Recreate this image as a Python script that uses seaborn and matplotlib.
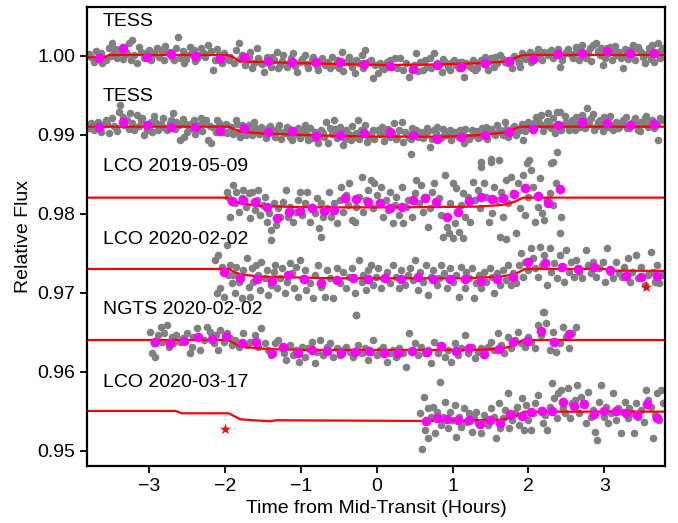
import matplotlib
matplotlib.use("Agg")
import matplotlib.pyplot as plt
import numpy as np
import pandas as pd
import seaborn as sns

# ---------------- data ----------------
labels = ["TESS", "TESS", "LCO 2019-05-09", "LCO 2020-02-02", "NGTS 2020-02-02", "LCO 2020-03-17"]
offsets = [1.000, 0.991, 0.982, 0.973, 0.964, 0.955]
label_flux = [1.00427, 0.99477, 0.98591, 0.97667, 0.96781, 0.95857]
xticks = [-3, -2, -1, 0, 1, 2, 3]
yticks = [0.95, 0.96, 0.97, 0.98, 0.99, 1.00]

# raw light curves: (hours from mid-transit, deviation from offset in ppt)
tess1_raw = [(-3.77,-0.12),(-3.73,-0.76),(-3.64,0.30),(-3.62,-0.97),(-3.57,-0.54),(-3.53,0.93),(-3.49,1.56),(-3.46,0.30),(-3.42,-0.33),(-3.38,0.72),(-3.31,0.51),(-3.27,1.56),(-3.22,1.99),(-3.20,0.09),(-3.16,-0.97),(-3.11,0.51),(-3.07,-0.33),(-3.00,0.72),(-2.96,0.09),(-2.90,0.93),(-2.85,0.72),(-2.81,-0.54),(-2.76,0.51),(-2.70,-0.12),(-2.65,0.93),(-2.62,2.41),(-2.59,-0.33),(-2.54,-0.97),(-2.50,0.09),(-2.46,1.14),(-2.41,0.72),(-2.37,-0.33),(-2.32,0.93),(-2.28,0.30),(-2.22,1.35),(-2.16,-1.81),(-2.13,-0.54),(-2.08,0.09),(-2.04,-0.97),(-1.98,-0.33),(-1.93,-0.12),(-1.86,0.72),(-1.82,1.56),(-1.78,0.09),(-1.71,-0.54),(-1.67,0.51),(-1.62,-0.97),(-1.58,0.93),(-1.54,-0.76),(-1.49,-2.02),(-1.45,-0.12),(-1.40,-1.39),(-1.36,-0.54),(-1.32,0.51),(-1.27,-1.18),(-1.23,0.09),(-1.18,-1.39),(-1.13,-0.33),(-1.10,0.30),(-1.05,-2.02),(-1.01,-0.76),(-0.94,0.09),(-0.90,-1.60),(-0.86,-0.54),(-0.81,-0.97),(-0.77,-1.81),(-0.72,-0.33),(-0.68,-1.18),(-0.64,-0.76),(-0.59,-0.12),(-0.55,-1.18),(-0.50,-1.60),(-0.46,0.51),(-0.42,-0.76),(-0.37,-0.12),(-0.33,-1.39),(-0.29,-2.23),(-0.24,-0.97),(-0.20,0.09),(-0.15,0.72),(-0.11,-0.76),(-0.05,-2.86),(-0.02,-1.18),
             (0.02,-2.23),(0.07,-1.39),(0.13,-0.76),(0.20,-1.39),(0.24,-0.33),(0.31,-0.33),(0.35,-1.81),(0.42,-2.65),(0.46,-1.81),(0.52,0.30),(0.57,-0.76),(0.61,-1.81),(0.66,-1.39),(0.70,-0.33),(0.75,0.30),(0.79,-0.97),(0.86,-2.02),(0.90,-0.76),(0.94,-1.39),(0.99,-0.76),(1.05,-1.18),(1.10,-0.76),(1.15,-2.65),(1.18,-0.97),(1.25,-1.60),(1.29,-1.81),(1.34,-0.97),(1.38,-0.54),(1.43,-0.12),(1.47,-1.81),(1.51,-0.33),(1.56,-0.12),(1.62,0.09),(1.69,-0.76),(1.73,-0.97),(1.78,-1.60),(1.84,-0.33),(1.89,-1.39),(1.93,-0.12),(2.00,0.09),(2.04,-0.76),(2.11,0.30),(2.15,-0.33),(2.21,0.51),(2.26,0.09),(2.30,0.72),(2.37,0.51),(2.41,-1.39),(2.46,0.09),(2.50,0.51),(2.54,0.30),(2.59,-0.33),(2.63,1.14),(2.68,0.72),(2.72,0.09),(2.76,-0.33),(2.81,0.93),(2.85,1.35),(2.89,1.56),(2.94,0.09),(2.98,-1.18),(3.03,0.93),(3.07,1.14),(3.12,0.72),(3.16,0.09),(3.22,-0.33),(3.25,-1.60),(3.29,0.09),(3.33,0.72),(3.38,1.35),(3.42,0.93),(3.46,0.72),(3.51,-0.12),(3.54,-0.97),(3.59,0.93),(3.63,1.35),(3.66,-0.76),(3.71,1.56),(3.75,0.72)]
tess1_raw_b = [(-3.80,0.2),(-3.70,0.6),(-3.60,-0.3),(-3.51,-0.1),(-3.44,0.9),(-3.35,-0.4),(-3.29,0.2),(-3.24,-0.6),(-3.13,1.1),(-3.04,0.4),(-2.98,-0.5),(-2.93,0.3),(-2.87,-0.2),(-2.79,1.2),(-2.73,0.5),(-2.67,-0.6),(-2.56,0.6),(-2.52,-0.4),(-2.44,0.3),(-2.39,-0.7),(-2.34,0.1),(-2.26,-0.2),(-2.19,0.6),(-2.10,0.8),(-2.06,-0.1),(-2.01,0.4),
               (-1.95,-0.6),(-1.88,-0.9),(-1.80,-0.4),(-1.74,-1.2),(-1.69,-0.2),(-1.64,-1.5),(-1.56,-0.3),(-1.51,-1.1),(-1.43,-0.8),(-1.38,-0.2),(-1.30,-1.6),(-1.25,-0.7),(-1.16,-0.9),(-1.08,-1.3),(-0.98,-0.4),(-0.92,-1.1),(-0.84,-0.2),(-0.79,-1.3),(-0.70,-0.8),(-0.61,-1.5),(-0.53,-0.6),(-0.44,-1.9),(-0.35,-0.9),(-0.27,-0.5),(-0.18,-1.6),(-0.08,-0.5),(0.04,-0.9),(0.10,-1.7),(0.17,-0.5),(0.27,-1.5),(0.39,-0.9),(0.49,-1.2),(0.55,-2.0),(0.64,-0.6),(0.72,-1.6),(0.82,-1.2),(0.88,-0.4),(0.97,-1.8),(1.02,-0.5),(1.08,-1.5),(1.13,-0.8),(1.21,-1.3),(1.27,-0.6),(1.32,-1.5),(1.41,-1.1),(1.49,-0.7),(1.54,-1.4),(1.59,-0.9),(1.66,-0.4),(1.76,-0.8),(1.81,-0.1),(1.87,-0.9),(1.91,0.3),
               (1.96,-0.4),(2.02,0.5),(2.08,-0.2),(2.13,0.9),(2.18,-0.6),(2.24,0.3),(2.33,-0.3),(2.39,0.9),(2.44,-0.5),(2.52,0.8),(2.57,-0.1),(2.61,0.4),(2.66,-0.6),(2.70,1.3),(2.79,0.3),(2.83,-0.7),(2.92,0.6),(2.96,1.0),(3.01,-0.3),(3.05,0.3),(3.10,-0.6),(3.14,1.2),(3.19,0.5),(3.27,0.8),(3.31,-0.4),(3.36,0.2),(3.40,-0.5),(3.44,1.1),(3.49,0.5),(3.56,0.2),(3.61,-0.4),(3.68,0.4),(3.73,-0.3),(3.78,1.0)]

tess2_raw = [(-3.77,0.44),(-3.73,-0.41),(-3.68,0.65),(-3.62,0.22),(-3.57,0.86),(-3.53,-0.83),(-3.49,1.07),(-3.44,-0.20),(-3.40,1.91),(-3.38,2.76),(-3.33,0.22),(-3.29,0.86),(-3.25,1.70),(-3.20,-0.41),(-3.16,1.49),(-3.11,0.86),(-3.07,-1.04),(-3.00,0.01),(-2.96,-0.62),(-2.92,0.65),(-2.87,0.01),(-2.82,1.07),(-2.77,-0.41),(-2.73,0.44),(-2.68,1.70),(-2.64,0.65),(-2.59,-1.67),(-2.54,-1.25),(-2.50,-0.62),(-2.46,0.01),(-2.41,0.86),(-2.37,-0.41),(-2.32,1.07),(-2.28,0.65),(-2.23,-1.67),(-2.18,-2.10),(-2.15,-0.20),(-2.10,0.86),(-2.06,0.22),(-2.02,-0.62),(-1.97,-0.83),(-1.92,0.01),(-1.86,0.86),(-1.82,-0.62),(-1.78,0.22),(-1.72,-1.04),(-1.67,-0.62),(-1.62,0.65),(-1.58,-0.41),(-1.53,0.01),(-1.48,-0.83),(-1.44,-0.20),(-1.38,-0.41),(-1.34,-1.25),(-1.29,0.22),(-1.24,-0.62),(-1.18,0.01),(-1.14,-1.25),(-1.10,-0.62),(-1.04,-0.20),(-0.99,-0.41),(-0.94,0.22),(-0.90,-1.67),(-0.86,-1.46),(-0.81,-0.62),(-0.77,-2.10),(-0.71,-0.83),(-0.67,0.65),(-0.61,-0.20),(-0.57,0.86),(-0.53,-1.46),(-0.48,0.01),(-0.44,-2.31),(-0.40,-0.41),(-0.34,-1.67),(-0.30,-1.25),(-0.25,0.86),(-0.21,-0.41),(-0.15,0.22),(-0.11,-1.25),(-0.05,-0.41),
             (0.02,-0.41),(0.07,0.01),(0.12,-0.62),(0.18,-1.25),(0.23,0.44),(0.27,-1.25),(0.33,0.65),(0.37,-0.62),(0.42,-1.25),(0.47,-0.20),(0.52,-0.41),(0.57,-0.83),(0.61,-1.46),(0.66,-0.20),(0.70,-2.52),(0.75,-0.41),(0.80,0.01),(0.86,-1.25),(0.90,-0.62),(0.96,-0.41),(1.00,-1.04),(1.05,-0.83),(1.10,-0.41),(1.15,-2.10),(1.19,-1.25),(1.25,-0.41),(1.29,-0.62),(1.34,-1.46),(1.39,-0.20),(1.44,0.01),(1.48,-0.41),(1.54,-0.83),(1.58,0.22),(1.63,-0.41),(1.69,0.65),(1.73,-1.25),(1.79,-0.20),(1.83,-1.04),(1.89,-0.41),(1.93,-1.67),(1.97,0.01),(2.03,-0.20),(2.07,0.44),(2.13,0.86),(2.17,1.49),(2.21,0.01),(2.26,1.70),(2.30,-0.20),(2.35,-0.83),(2.38,1.91),(2.41,1.91),(2.46,0.22),(2.50,0.65),(2.54,-0.41),(2.60,0.44),(2.63,1.28),(2.68,0.01),(2.73,0.86),(2.77,2.34),(2.83,1.07),(2.87,-0.41),(2.92,0.65),(2.96,0.22),(3.00,1.28),(3.05,0.01),(3.11,-0.41),(3.15,0.65),(3.20,0.01),(3.25,0.86),(3.30,-0.20),(3.36,0.44),(3.40,1.07),(3.44,-0.41),(3.49,0.65),(3.53,1.07),(3.57,0.01),(3.63,0.86),(3.68,0.22),(3.71,-1.67),(3.74,1.07)]
tess2_raw_b = [(-3.80,-0.2),(-3.70,0.3),(-3.64,-0.6),(-3.55,0.4),(-3.47,0.1),(-3.42,-0.5),(-3.35,1.2),(-3.27,-0.3),(-3.22,0.5),(-3.13,0.1),(-3.09,1.1),(-3.03,-0.4),(-2.98,0.6),(-2.94,1.3),(-2.89,-0.4),(-2.84,0.3),(-2.79,-0.2),(-2.71,0.9),(-2.66,-0.3),(-2.61,0.2),(-2.56,1.0),(-2.52,0.3),(-2.48,-0.3),(-2.43,0.5),(-2.39,-0.9),(-2.34,0.2),(-2.30,-0.5),(-2.25,0.8),(-2.20,0.1),(-2.12,-0.6),(-2.08,0.5),(-2.04,-0.2),(-1.99,0.4),
               (-1.94,-0.5),(-1.89,-0.9),(-1.84,0.3),(-1.80,-1.3),(-1.75,-0.4),(-1.69,0.2),(-1.64,-1.1),(-1.60,-0.2),(-1.55,-0.9),(-1.50,-0.4),(-1.46,-1.4),(-1.41,0.1),(-1.36,-0.8),(-1.31,-0.3),(-1.26,-1.5),(-1.21,-0.8),(-1.16,-0.3),(-1.12,-1.7),(-1.06,-0.9),(-1.01,-1.4),(-0.96,-0.6),(-0.92,-1.1),(-0.88,-0.2),(-0.83,-1.0),(-0.79,-1.5),(-0.74,-0.4),(-0.69,-1.3),(-0.64,-2.0),(-0.59,-0.9),(-0.55,-0.3),(-0.50,-1.2),(-0.46,-0.7),(-0.42,-1.5),(-0.37,-0.9),(-0.32,0.1),(-0.27,-0.8),(-0.23,-1.6),(-0.18,-0.6),(-0.13,-1.9),(-0.08,-0.9),(-0.03,-1.6),(0.04,-0.9),(0.10,-1.8),(0.15,-0.3),(0.20,-0.8),(0.25,-1.6),(0.30,-0.4),(0.35,-1.9),(0.40,-0.9),(0.45,-1.5),(0.50,-0.8),(0.55,-1.3),(0.59,-0.6),(0.64,-1.1),(0.68,-0.5),(0.73,-1.6),(0.78,-0.8),(0.83,-1.4),(0.88,-0.3),(0.93,-1.1),(0.98,-1.7),(1.03,-0.6),(1.08,-1.3),(1.12,-0.8),(1.17,-0.3),(1.22,-1.6),(1.27,-1.0),(1.32,-0.5),(1.37,-1.2),(1.42,-0.7),(1.46,-1.5),(1.51,-0.3),(1.56,-1.0),(1.61,-0.5),(1.66,-1.1),(1.71,-0.3),(1.76,-0.7),(1.81,0.1),(1.86,-0.5),(1.91,0.4),
               (1.95,-0.5),(2.00,0.6),(2.05,-0.1),(2.10,1.2),(2.15,0.3),(2.19,-0.5),(2.24,0.7),(2.28,0.2),(2.33,1.1),(2.43,-0.4),(2.48,1.3),(2.52,0.2),(2.57,0.9),(2.62,-0.4),(2.66,0.5),(2.70,1.5),(2.75,-0.2),(2.80,0.4),(2.85,1.6),(2.90,0.1),(2.94,0.9),(2.98,-0.5),(3.02,0.6),(3.08,1.4),(3.13,0.2),(3.18,-0.2),(3.23,0.4),(3.28,1.2),(3.33,-0.1),(3.38,0.6),(3.42,0.2),(3.47,-0.5),(3.51,0.4),(3.55,1.4),(3.60,0.5),(3.65,-0.2),(3.70,0.4),(3.77,0.8)]

lco19_raw = [(-1.98,0.79),(-1.96,0.15),(-1.93,-2.38),(-1.90,1.63),(-1.87,-0.69),(-1.85,0.79),(-1.81,-1.75),(-1.78,-0.06),(-1.76,1.00),(-1.72,-1.11),(-1.69,0.57),(-1.67,-2.59),(-1.64,0.79),(-1.61,-1.53),(-1.58,-0.27),(-1.56,1.00),(-1.54,-2.17),(-1.50,-0.90),(-1.47,0.15),(-1.45,-3.01),(-1.42,-1.96),(-1.39,-4.07),(-1.36,-0.69),(-1.33,-3.43),(-1.30,-1.32),(-1.28,-2.38),(-1.24,-0.48),(-1.20,1.00),(-1.17,-2.38),(-1.14,-1.11),(-1.10,-3.01),(-1.07,-1.75),(-1.04,-0.27),(-1.01,0.79),(-0.98,-2.17),(-0.95,-0.69),(-0.92,0.79),(-0.88,-3.01),(-0.85,-1.11),(-0.82,-1.96),(-0.79,-0.06),(-0.76,-3.86),(-0.73,-0.69),(-0.71,-2.38),(-0.66,-1.32),(-0.63,0.79),(-0.60,-2.38),(-0.57,-0.69),(-0.53,-3.22),(-0.49,-0.27),(-0.47,1.42),(-0.44,-1.75),(-0.41,0.36),(-0.38,-0.90),(-0.36,1.84),(-0.32,-2.80),(-0.29,-3.01),(-0.27,-1.11),(-0.23,0.15),(-0.20,2.68),(-0.18,-1.75),(-0.14,-0.27),(-0.11,1.00),(-0.08,2.26),(-0.05,-1.32),(-0.03,1.84),(0.00,0.36),(0.03,-0.69),(0.06,1.42),(0.08,-2.38),(0.12,-0.27),(0.15,-1.53),(0.17,0.79),(0.21,-3.22),(0.24,-0.90),(0.26,0.15),(0.29,-2.17),(0.33,1.42),(0.35,-3.22),(0.38,-1.11),(0.41,-0.27),(0.45,5.55),(0.47,-2.38),(0.50,0.57),(0.52,2.26),(0.56,-0.69),(0.59,1.63),(0.61,-1.75),(0.65,0.15),(0.68,-3.64),(0.70,-1.32),(0.73,0.79),(0.76,1.84),(0.79,-0.69),(0.82,-0.06),(0.85,-2.17),(0.90,2.90),(0.93,-3.64),(0.95,-4.49),(0.96,-0.69),(1.00,1.84),(1.03,-3.22),(1.05,1.21),(1.08,-4.28),(1.11,-0.90),(1.14,0.57),(1.17,-2.38),(1.20,0.15),(1.23,-3.01),(1.27,2.05),(1.29,-0.27),(1.33,1.00),(1.36,-1.32),(1.38,3.95),(1.41,1.84),(1.44,0.15),(1.48,-3.01),(1.50,4.58),(1.52,-1.96),(1.55,1.42),(1.58,-0.27),(1.62,-4.91),(1.64,0.79),(1.66,-2.38),(1.70,2.26),(1.73,-0.69),(1.77,2.68),(1.79,0.57),(1.83,-4.49),(1.86,1.84),(1.89,-1.32),(1.93,2.90),(1.95,-2.17),(1.98,4.37),(2.00,0.15),(2.04,3.53),(2.06,1.42),(2.09,-3.01),(2.12,-1.11),(2.15,2.47),(2.18,-1.96),(2.21,-2.80),(2.24,-0.27),(2.28,0.57),(2.30,4.37),(2.32,-0.90),(2.36,1.84),(2.37,5.85),(2.41,-4.49),(2.43,-2.38),
             (1.37,4.50),(1.51,4.90),(1.61,4.80),(2.01,4.80),(2.33,4.60)]

lco20a_raw = [(-2.13,1.14),(-2.11,-3.08),(-2.09,1.77),(-2.07,-2.45),(-2.04,0.30),(-2.02,-3.50),(-1.98,3.04),(-1.96,-0.76),(-1.93,0.51),(-1.91,-1.81),(-1.89,-0.76),(-1.87,-3.08),(-1.85,0.30),(-1.81,-1.60),(-1.78,-3.71),(-1.76,-0.13),(-1.71,1.35),(-1.69,-2.24),(-1.67,-3.50),(-1.65,0.08),(-1.63,-1.60),(-1.59,0.51),(-1.56,-0.76),(-1.54,-2.66),(-1.52,0.93),(-1.47,-1.18),(-1.45,-0.13),(-1.43,-3.29),(-1.40,-2.02),(-1.36,-0.34),(-1.34,0.51),(-1.32,-2.45),(-1.28,-1.18),(-1.25,0.08),(-1.21,-3.08),(-1.18,-1.60),(-1.145,0.72),(-1.12,-0.55),(-1.09,-2.45),(-1.06,0.30),(-1.04,-3.50),(-1.01,1.14),(-0.97,-1.18),(-0.95,-0.13),(-0.93,-2.66),(-0.88,-1.81),(-0.84,-3.71),(-0.82,-0.76),(-0.77,0.51),(-0.73,-2.24),(-0.68,-3.50),(-0.66,-0.13),(-0.62,-1.18),(-0.58,-3.71),(-0.53,0.08),(-0.49,-1.81),(-0.44,-0.34),(-0.40,-2.45),(-0.36,-0.97),(-0.32,0.08),(-0.29,-3.08),(-0.27,-5.82),(-0.23,1.14),(-0.20,-1.60),(-0.18,-0.76),(-0.14,-2.66),(-0.11,-0.13),(-0.08,0.51),(-0.05,-2.02),(-0.01,-0.97),(0.02,0.08),(0.06,-2.45),(0.08,-1.18),(0.13,-0.34),(0.17,-1.81),(0.21,0.51),(0.26,-0.97),(0.29,-2.45),(0.32,-0.13),(0.37,-2.02),(0.41,-0.76),(0.44,0.08),(0.48,-1.39),(0.51,1.14),(0.54,-2.66),(0.57,-0.34),(0.61,-1.60),(0.65,0.51),(0.68,-3.29),(0.71,-0.97),(0.74,-0.13),(0.79,-2.02),(0.82,-1.18),(0.85,0.51),(0.89,-0.55),(0.93,-2.45),(0.96,0.08),(1.00,-1.60),(1.05,-0.76),(1.08,-3.50),(1.11,0.30),(1.16,-2.45),(1.18,-0.34),(1.21,-1.18),(1.25,0.08),(1.28,-3.71),(1.31,-1.81),(1.35,-0.76),(1.38,-2.45),(1.41,-0.34),(1.44,-1.60),(1.49,0.08),(1.52,-0.97),(1.55,-3.08),(1.58,-0.55),(1.62,-2.02),(1.66,-0.13),(1.70,-1.39),(1.73,0.51),(1.77,-2.02),(1.80,-0.55),(1.84,-1.81),(1.87,0.51),(1.90,1.98),(1.93,-0.97),(1.96,0.93),(1.99,-0.13),(2.03,2.62),(2.06,1.35),(2.09,0.08),(2.12,-0.97),(2.15,2.83),(2.18,0.51),(2.19,-5.49),(2.21,1.77),(2.24,-2.02),(2.28,2.62),(2.30,-0.34),(2.34,0.72),(2.37,-1.18),(2.41,1.77),(2.43,0.08),(2.47,-1.60),(2.50,2.40),(2.53,-0.34),(2.56,0.93),(2.60,-0.97),(2.63,1.14),(2.67,-0.34),(2.71,-1.18),(2.76,2.40),(2.79,0.51),(2.82,-0.55),(2.85,0.93),(2.89,-0.97),(2.93,0.08),(2.98,0.93),(3.01,-1.60),(3.04,2.62),(3.07,-0.34),(3.11,-1.18),(3.15,0.93),(3.19,-0.55),(3.23,-0.97),(3.26,0.30),(3.31,1.35),(3.34,-1.60),(3.37,-0.34),(3.42,1.77),(3.45,-1.18),(3.48,0.30),(3.53,-2.02),(3.57,-0.76),(3.61,2.19),(3.64,-0.34),(3.67,-1.60),(3.70,0.51),(3.72,-1.81),(3.76,-0.76),
              (-1.39,3.67),(-0.73,4.09),(0.87,4.09),(1.00,3.88),(1.14,3.88),(1.71,3.80)]

ngts_raw = [(-2.99,1.07),(-2.96,-1.67),(-2.94,-0.41),(-2.92,-2.10),(-2.88,0.65),(-2.85,1.70),(-2.83,-0.20),(-2.81,0.86),(-2.77,1.91),(-2.74,-0.83),(-2.70,0.43),(-2.68,-0.41),(-2.64,0.65),(-2.59,-0.20),(-2.55,0.22),(-2.50,0.86),(-2.46,-1.67),(-2.44,-0.83),(-2.42,0.43),(-2.37,1.49),(-2.33,-1.25),(-2.28,0.01),(-2.24,1.70),(-2.20,1.07),(-2.15,-0.41),(-2.12,0.65),(-2.09,-1.25),(-2.07,1.28),(-2.02,-0.20),(-1.98,0.86),(-1.93,0.22),(-1.91,-0.62),(-1.87,0.01),(-1.82,-0.83),(-1.78,-0.41),(-1.76,0.86),(-1.71,-0.62),(-1.67,-0.20),(-1.60,0.65),(-1.56,-0.83),(-1.52,1.49),(-1.47,-0.41),(-1.43,-1.25),(-1.39,-1.88),(-1.34,-0.41),(-1.30,0.01),(-1.25,-1.04),(-1.22,-1.67),(-1.19,-2.52),(-1.14,-0.62),(-1.10,-1.88),(-1.06,-1.25),(-1.02,-2.73),(-0.99,-0.83),(-0.95,-2.10),(-0.90,-1.04),(-0.86,-0.20),(-0.82,-2.94),(-0.79,-1.46),(-0.75,0.01),(-0.71,-1.88),(-0.66,-0.83),(-0.62,-0.41),(-0.58,-2.10),(-0.53,-1.04),(-0.49,-1.88),(-0.44,-1.25),(-0.40,-0.83),(-0.35,-1.46),(-0.31,-2.10),(-0.27,3.18),(-0.25,-0.62),(-0.20,-1.67),(-0.16,-1.04),(-0.11,-2.52),(-0.07,-1.46),(-0.05,0.01),(0.00,-1.88),(0.04,-1.25),(0.08,-0.83),(0.13,-2.73),(0.17,-1.67),(0.22,-1.25),(0.26,-2.10),(0.30,-1.04),(0.35,-1.67),(0.39,-3.36),(0.43,0.86),(0.46,-1.46),(0.50,-0.41),(0.54,-1.88),(0.59,-0.83),(0.63,-1.67),(0.68,-1.25),(0.72,-2.94),(0.76,-0.20),(0.81,-1.67),(0.85,-0.83),(0.90,-2.10),(0.94,-1.25),(0.98,-2.73),(1.03,-0.41),(1.07,-1.88),(1.11,-1.04),(1.16,0.65),(1.20,-1.67),(1.25,-0.83),(1.29,-2.31),(1.33,-1.46),(1.38,-1.04),(1.42,-1.88),(1.47,-0.83),(1.51,-0.20),(1.55,-1.25),(1.60,0.86),(1.64,-0.62),(1.68,-1.67),(1.73,0.43),(1.77,-1.04),(1.82,0.01),(1.86,1.07),(1.90,-0.41),(1.95,-0.83),(1.99,0.43),(2.04,-0.20),(2.08,-1.04),(2.12,1.91),(2.17,0.65),(2.20,3.60),(2.23,2.12),(2.28,-1.25),(2.32,1.07),(2.36,-1.46),(2.41,-0.41),(2.45,1.70),(2.50,0.43),(2.54,-1.04),(2.58,0.86),(2.63,1.70)]

lco20b_raw = [(0.57,-0.27),(0.60,-4.78),(0.62,1.84),(0.64,-2.38),(0.67,0.36),(0.68,-3.43),(0.71,-0.69),(0.74,0.57),(0.77,-2.80),(0.80,-0.06),(0.83,3.65),(0.85,-1.75),(0.87,-0.69),(0.90,1.20),(0.94,-2.17),(0.96,-0.06),(0.99,-1.11),(1.03,0.78),(1.05,-3.22),(1.08,-0.69),(1.11,-1.96),(1.15,0.36),(1.18,-1.32),(1.21,-0.27),(1.25,-2.59),(1.28,-0.90),(1.31,-0.06),(1.34,-1.54),(1.38,-2.80),(1.41,-0.48),(1.44,-1.11),(1.47,-1.75),(1.51,0.36),(1.54,-0.69),(1.57,-3.43),(1.61,0.99),(1.63,-2.17),(1.66,-0.90),(1.69,0.15),(1.73,2.26),(1.75,-2.17),(1.78,-1.11),(1.82,-0.27),(1.85,0.57),(1.88,-1.75),(1.91,1.63),(1.94,-2.38),(1.97,0.78),(2.00,-1.11),(2.04,-2.38),(2.06,-0.27),(2.09,0.99),(2.12,2.05),(2.16,0.15),(2.19,-1.54),(2.22,-0.48),(2.25,-2.38),(2.28,0.57),(2.31,3.53),(2.34,1.63),(2.37,-0.90),(2.39,2.26),(2.43,2.68),(2.46,0.36),(2.48,-0.27),(2.52,2.89),(2.55,-0.90),(2.58,0.99),(2.61,1.42),(2.64,3.32),(2.67,-0.27),(2.69,1.84),(2.73,0.99),(2.76,-1.54),(2.78,2.47),(2.82,-0.69),(2.85,0.15),(2.88,-2.59),(2.90,-3.65),(2.93,1.20),(2.96,3.32),(2.99,-0.69),(3.02,0.57),(3.05,-1.54),(3.09,-0.27),(3.12,2.26),(3.15,-1.11),(3.18,0.36),(3.22,-2.80),(3.25,-0.06),(3.27,1.20),(3.31,-0.90),(3.33,0.36),(3.36,-0.27),(3.39,-2.80),(3.42,0.99),(3.45,-0.69),(3.48,0.15),(3.52,-1.32),(3.55,2.68),(3.57,1.42),(3.61,0.57),(3.64,-3.43),(3.67,-0.48),(3.69,2.26),(3.72,-1.11),(3.75,2.68),(3.78,0.99)]

raw_sets = [tess1_raw + tess1_raw_b, tess2_raw + tess2_raw_b, lco19_raw, lco20a_raw, ngts_raw, lco20b_raw]

# binned (magenta) points
tess_bin_t = [-3.66,-3.35,-3.03,-2.71,-2.40,-2.07,-1.75,-1.43,-1.12,-0.80,-0.48,-0.17,0.17,0.48,0.79,1.11,1.43,1.75,2.06,2.39,2.71,3.03,3.34,3.66]
tess1_bin_f = [0.99967,1.00101,0.99987,1.00022,0.99996,0.99958,0.99987,0.99937,0.99920,0.99924,0.99924,0.99891,0.99870,0.99835,0.99882,0.99861,0.99904,0.99937,0.99962,1.00022,1.00030,1.00060,1.00030,1.00038]
tess2_bin_f = [0.99101,0.99157,0.99123,0.99097,0.99101,0.99051,0.99081,0.99038,0.99043,0.98984,0.98992,0.99025,0.99030,0.98992,0.98942,0.98975,0.99000,0.99030,0.99072,0.99123,0.99165,0.99148,0.99119,0.99135]
lco19_bin_t = [-1.91,-1.76,-1.61,-1.45,-1.31,-1.16,-1.01,-0.86,-0.70,-0.57,-0.42,-0.27,-0.11,0.04,0.18,0.33,0.48,0.63,0.78,0.93,1.07,1.22,1.38,1.52,1.66,1.81,1.96,2.12,2.26,2.42]
lco19_bin_f = [0.98165,0.98173,0.98152,0.98089,0.97942,0.98025,0.98034,0.98068,0.98034,0.98047,0.98195,0.98182,0.98144,0.98132,0.98068,0.98081,0.98173,0.98203,0.98152,0.97962,0.98025,0.98165,0.98215,0.98182,0.98195,0.98246,0.98329,0.98224,0.98132,0.98313]
lco19_bin_err = 0.00042
lco20a_bin_t = [-2.02,-1.80,-1.58,-1.38,-1.17,-0.96,-0.74,-0.53,-0.31,-0.11,0.105,0.32,0.54,0.74,0.96,1.17,1.38,1.59,1.79,2.00,2.22,2.44,2.65,2.86,3.07,3.28,3.49,3.70]
lco20a_bin_f = [0.97266,0.97182,0.97173,0.97152,0.97224,0.97170,0.97127,0.97161,0.97190,0.97170,0.97182,0.97170,0.97203,0.97173,0.97173,0.97173,0.97152,0.97173,0.97203,0.97392,0.97372,0.97322,0.97296,0.97322,0.97287,0.97215,0.97195,0.97208]
ngts_bin_t = [-2.92,-2.72,-2.54,-2.35,-2.17,-1.99,-1.78,-1.59,-1.38,-1.23,-1.04,-0.85,-0.66,-0.47,-0.29,-0.10,0.09,0.28,0.47,0.66,0.85,1.04,1.22,1.41,1.61,1.79,1.98,2.17,2.34,2.53]
ngts_bin_f = [0.96380,0.96367,0.96392,0.96435,0.96414,0.96452,0.96359,0.96380,0.96241,0.96316,0.96233,0.96275,0.96262,0.96233,0.96253,0.96262,0.96241,0.96233,0.96262,0.96246,0.96329,0.96262,0.96296,0.96224,0.96287,0.96372,0.96392,0.96515,0.96372,0.96473]
lco20b_bin_t = [0.65,0.79,0.93,1.07,1.21,1.36,1.49,1.62,1.76,1.91,2.04,2.18,2.31,2.46,2.60,2.73,2.86,3.00,3.15,3.29,3.43,3.56,3.69]
lco20b_bin_f = [0.95380,0.95418,0.95401,0.95389,0.95389,0.95334,0.95389,0.95347,0.95461,0.95443,0.95494,0.95506,0.95506,0.95620,0.95570,0.95595,0.95461,0.95503,0.95503,0.95481,0.95452,0.95587,0.95410]
lco20b_bin_err = 0.00045

# transit models (red): knots in hours, deviation from offset in ppt
tess1_mod_t = [-3.82,-3.58,-3.53,-1.97,-1.89,-1.82,-1.75,-1.0,0.0,0.6,1.3,1.67,1.75,1.82,1.89,1.94,3.82]
tess1_mod_d = [-0.20,-0.20,0.09,0.09,-0.21,-0.63,-0.75,-0.95,-1.17,-1.15,-0.97,-0.76,-0.60,-0.30,-0.04,0.09,0.09]
tess2_mod_t = [-3.82,-1.95,-1.88,-1.80,-1.53,-0.8,0.0,0.9,1.32,1.67,1.78,1.89,3.82]
tess2_mod_d = [0.01,0.01,-0.30,-0.62,-0.83,-1.10,-1.25,-1.25,-1.08,-0.75,-0.41,0.01,0.01]
lco19_mod_t = [-3.82,-1.98,-1.90,-1.80,-1.54,-0.88,0.3,1.31,1.66,1.82,1.93,3.82]
lco19_mod_d = [0.03,0.03,-0.30,-0.69,-1.03,-1.20,-1.20,-1.11,-0.90,-0.48,0.03,0.03]
lco20a_mod_t = [-3.82,-1.96,-1.88,-1.80,-1.54,-0.57,1.18,1.62,1.82,1.95,3.0,3.09,3.82]
lco20a_mod_d = [0.0,0.0,-0.35,-0.68,-0.97,-1.18,-1.18,-0.97,-0.68,0.0,0.0,-0.21,-0.25]
ngts_mod_t = [-3.82,-1.96,-1.88,-1.80,-1.45,-0.92,1.27,1.62,1.79,1.93,3.82]
ngts_mod_d = [0.01,0.01,-0.40,-0.83,-1.13,-1.25,-1.25,-1.13,-0.75,0.01,0.01]
lco20b_mod_t = [-3.82,-2.65,-2.57,-1.95,-1.80,-1.54,-1.40,-1.33,0.6,1.0,1.6,1.77,1.87,1.95,3.82]
lco20b_mod_d = [0.03,0.03,-0.27,-0.27,-1.03,-1.20,-1.28,-1.15,-1.24,-1.20,-1.10,-0.90,-0.40,-0.06,-0.06]

model_t = [tess1_mod_t, tess2_mod_t, lco19_mod_t, lco20a_mod_t, ngts_mod_t, lco20b_mod_t]
model_d = [tess1_mod_d, tess2_mod_d, lco19_mod_d, lco20a_mod_d, ngts_mod_d, lco20b_mod_d]

star_t = [3.55, -2.00]
star_f = [0.97076, 0.95271]

# ---------------- plot ----------------
sns.set_theme(style="ticks")
plt.rcParams["font.family"] = ["Liberation Sans", "DejaVu Sans"]
plt.rcParams["font.size"] = 14

fig = plt.figure(figsize=(6.78, 5.23), dpi=100)
ax = fig.add_axes([0.1283, 0.109, 0.8525, 0.877])

GRAY = "#808080"
MAG = "#ff00ff"
RED = "#ff0000"

for raw, off in zip(raw_sets, offsets):
    df = pd.DataFrame(raw, columns=["t", "d"])
    df["flux"] = off + df["d"] / 1000.0
    sns.scatterplot(data=df, x="t", y="flux", color=GRAY, s=30, linewidth=0, ax=ax, zorder=1)

for mt, md, off in zip(model_t, model_d, offsets):
    mf = off + np.asarray(md) / 1000.0
    sns.lineplot(x=mt, y=mf, color=RED, linewidth=1.6, estimator=None, sort=False, ax=ax, zorder=2)

# error bars of LCO binned points
ax.vlines(lco19_bin_t, np.array(lco19_bin_f) - lco19_bin_err, np.array(lco19_bin_f) + lco19_bin_err,
          color=MAG, linewidth=2, zorder=3)
ax.vlines(lco20b_bin_t, np.array(lco20b_bin_f) - lco20b_bin_err, np.array(lco20b_bin_f) + lco20b_bin_err,
          color=MAG, linewidth=2, zorder=3)

for bt, bf in [(tess_bin_t, tess1_bin_f), (tess_bin_t, tess2_bin_f), (lco19_bin_t, lco19_bin_f),
               (lco20a_bin_t, lco20a_bin_f), (ngts_bin_t, ngts_bin_f), (lco20b_bin_t, lco20b_bin_f)]:
    sns.scatterplot(x=bt, y=bf, color=MAG, s=48, linewidth=0, ax=ax, zorder=4)

sns.scatterplot(x=star_t, y=star_f, color=RED, marker="*", s=70, linewidth=0, ax=ax, zorder=5)

for lab, lf in zip(labels, label_flux):
    ax.text(-3.61, lf, lab, ha="left", va="center", fontsize=14, color="black")

ax.set_xlim(-3.82, 3.80)
ax.set_ylim(0.94806, 1.00612)
ax.set_xticks(xticks)
ax.set_xticklabels([f"{v}" if v >= 0 else f"\u2212{abs(v)}" for v in xticks])
ax.set_yticks(yticks)
ax.set_yticklabels([f"{v:.2f}" for v in yticks])
ax.set_xlabel("Time from Mid-Transit (Hours)", fontsize=14, color="black")
ax.set_ylabel("Relative Flux", fontsize=14, color="black")
ax.tick_params(direction="out", length=5, width=1.3, labelsize=14, colors="black")
for sp in ax.spines.values():
    sp.set_visible(True)
    sp.set_color("black")
    sp.set_linewidth(1.6)

fig.savefig("out.png", dpi=100)
